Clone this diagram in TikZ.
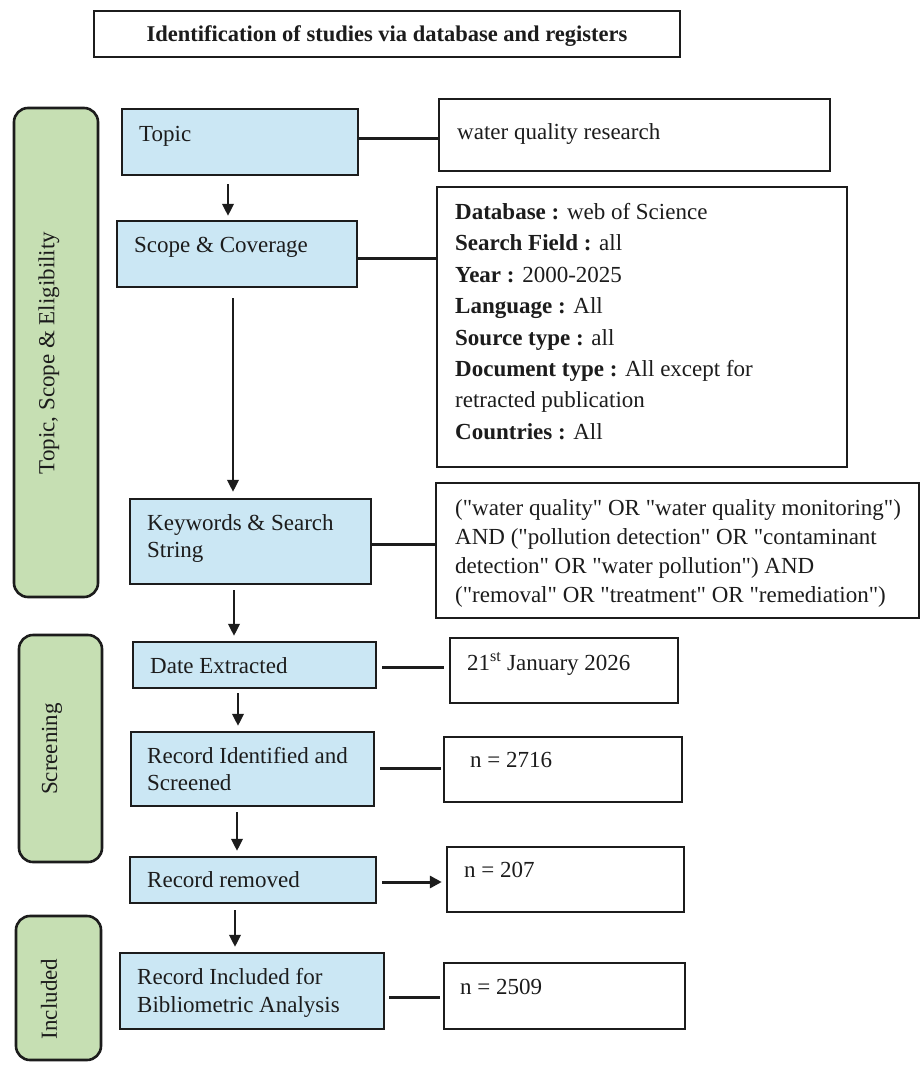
\documentclass[tikz,border=0pt]{standalone}
\usepackage{fontspec}
\setmainfont{Liberation Serif}[Ligatures=TeXOff]
\usetikzlibrary{arrows.meta}
\definecolor{boxblue}{HTML}{CBE7F4}
\definecolor{bargreen}{HTML}{C6DFB3}
\definecolor{ink}{HTML}{1C1C1C}
\tikzset{
  bluebox/.style={draw=ink, line width=2.4pt, fill=boxblue, inner sep=0pt},
  whitebox/.style={draw=ink, line width=2.4pt, fill=white, inner sep=0pt},
  greenbar/.style={draw=ink, line width=2.6pt, fill=bargreen, rounded corners=14pt, inner sep=0pt},
  txt/.style={anchor=west, inner sep=0pt, text=ink, font=\fontsize{23}{28}\selectfont, text height=0.7em, text depth=0.2em, yshift=-5pt},
  vtxt/.style={rotate=90, inner sep=0pt, text=ink, font=\fontsize{23}{28}\selectfont},
  conn/.style={draw=ink, line width=3pt},
  arr/.style={draw=ink, line width=2pt, -{Triangle[length=12pt,width=11.5pt]}},
}
\begin{document}
\begin{tikzpicture}[x=1pt,y=-1pt]
\useasboundingbox[fill=white] (0,0) rectangle (921,1068);

% header
\node[whitebox, line width=2.2pt, minimum width=586pt, minimum height=46pt] (hdr) at (387,34) {};
\node[inner sep=0pt, text=ink, font=\fontsize{22.5}{27}\selectfont\bfseries] (hdrt) at (387,36) {Identification of studies via database and registers};

% green side bars
\node[greenbar, minimum width=84pt, minimum height=489pt] (g1) at (56,352.5) {};
\node[greenbar, minimum width=83pt, minimum height=227pt] (g2) at (60.5,748.5) {};
\node[greenbar, minimum width=85pt, minimum height=144pt] (g3) at (58.5,988) {};
\node[vtxt] (g1t) at (49,353) {Topic, Scope \& Eligibility};
\node[vtxt] (g2t) at (52,749) {Screening};
\node[vtxt] (g3t) at (49,999) {Included};

% blue boxes
\node[bluebox, minimum width=236pt, minimum height=66pt] (topic) at (240,142) {};
\node[bluebox, minimum width=240pt, minimum height=66pt] (scope) at (237,254) {};
\node[bluebox, minimum width=241pt, minimum height=85pt] (kw) at (250.5,541.5) {};
\node[bluebox, minimum width=243pt, minimum height=46pt] (date) at (254.5,665) {};
\node[bluebox, minimum width=243pt, minimum height=74pt] (ident) at (252.5,769) {};
\node[bluebox, minimum width=246pt, minimum height=46pt] (rem) at (253,880) {};
\node[bluebox, minimum width=264pt, minimum height=76pt] (incl) at (252,991) {};

\node[txt] (topict) at (139,134) {Topic};
\node[txt] (scopet) at (134,245) {Scope \& Coverage};
\node[txt] (kwt1) at (147,523) {Keywords \& Search};
\node[txt] (kwt2) at (147,550) {String};
\node[txt] (datet) at (150,666) {Date Extracted};
\node[txt] (identt1) at (147,756) {Record Identified and};
\node[txt] (identt2) at (147,783) {Screened};
\node[txt] (remt) at (147,880) {Record removed};
\node[txt] (inclt1) at (137,977) {Record Included for};
\node[txt] (inclt2) at (137,1005) {Bibliometric Analysis};

% white boxes
\node[whitebox, minimum width=391pt, minimum height=72pt] (wq) at (634.5,135) {};
\node[whitebox, minimum width=410pt, minimum height=280pt] (db) at (642,327) {};
\node[whitebox, minimum width=483pt, minimum height=135pt] (qry) at (677.5,550.5) {};
\node[whitebox, minimum width=228pt, minimum height=65pt] (d21) at (564,670.5) {};
\node[whitebox, minimum width=238pt, minimum height=65pt] (n1) at (563,769.5) {};
\node[whitebox, minimum width=237pt, minimum height=65pt] (n2) at (565.5,879.5) {};
\node[whitebox, minimum width=241pt, minimum height=66pt] (n3) at (564.5,996) {};

\node[txt] (wqt) at (457,132) {water quality research};
\node[txt] (db1) at (455,212) {\textbf{Database :} web of Science};
\node[txt] (db2) at (455,243.4) {\textbf{Search Field :} all};
\node[txt] (db3) at (455,274.8) {\textbf{Year :} 2000-2025};
\node[txt] (db4) at (455,306.2) {\textbf{Language :} All};
\node[txt] (db5) at (455,337.6) {\textbf{Source type :} all};
\node[txt] (db6) at (455,369) {\textbf{Document type :} All except for};
\node[txt] (db7) at (455,400.4) {retracted publication};
\node[txt] (db8) at (455,431.8) {\textbf{Countries :} All};
\node[txt] (q1) at (455,508) {("water quality" OR "water quality monitoring")};
\node[txt] (q2) at (455,537) {AND ("pollution detection" OR "contaminant};
\node[txt] (q3) at (455,566) {detection" OR "water pollution") AND};
\node[txt] (q4) at (455,595) {("removal" OR "treatment" OR "remediation")};
\node[txt] (d21t) at (467,663) {21\textsuperscript{st} January 2026};
\node[txt] (n1t) at (470,760) {n = 2716};
\node[txt] (n2t) at (464,870) {n = 207};
\node[txt] (n3t) at (460,987) {n = 2509};

% horizontal connectors
\draw[conn] (topic.east |- 0,138) -- (wq.west |- 0,138);
\draw[conn] (scope.east |- 0,258) -- (db.west |- 0,258);
\draw[conn] (kw.east |- 0,544) -- (qry.west |- 0,544);
\draw[conn, shorten <=5pt, shorten >=5pt] (date.east |- 0,667) -- (d21.west |- 0,667);
\draw[conn, shorten <=5pt, shorten >=2pt] (ident.east |- 0,768) -- (n1.west |- 0,768);
\draw[conn, -{Triangle[length=12pt,width=12pt]}, shorten <=5pt, shorten >=4pt] (rem.east |- 0,882) -- (n2.west |- 0,882);
\draw[conn, shorten <=4pt, shorten >=3pt] (incl.east |- 0,997) -- (n3.west |- 0,997);

% vertical arrows
\draw[arr, shorten <=8pt, shorten >=4pt] (topic.south -| 228,0) -- (scope.north -| 228,0);
\draw[arr, shorten <=10pt, shorten >=6pt] (scope.south -| 233,0) -- (kw.north -| 233,0);
\draw[arr, shorten <=5pt, shorten >=5pt] (kw.south -| 234,0) -- (date.north -| 234,0);
\draw[arr, shorten <=4pt, shorten >=5pt] (date.south -| 238,0) -- (ident.north -| 238,0);
\draw[arr, shorten <=5pt, shorten >=5pt] (ident.south -| 237,0) -- (rem.north -| 237,0);
\draw[arr, shorten <=6pt, shorten >=5pt] (rem.south -| 235,0) -- (incl.north -| 235,0);
\end{tikzpicture}
\end{document}
